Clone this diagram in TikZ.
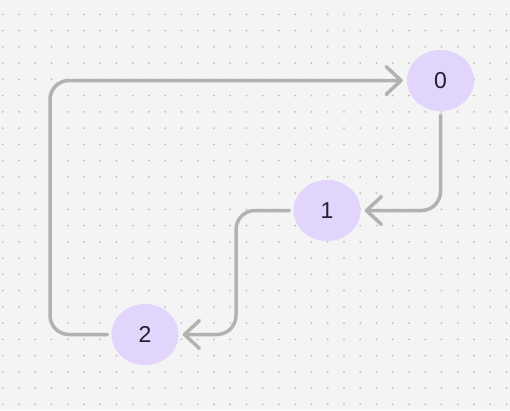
\documentclass[tikz,border=0pt]{standalone}
\usepackage{fontspec}
\setmainfont{Liberation Sans}
\usetikzlibrary{arrows.meta,shapes.geometric}
\definecolor{bgc}{HTML}{F4F4F4}
\definecolor{dotc}{HTML}{BDBDBD}
\definecolor{nodec}{HTML}{E1D4FD}
\definecolor{linec}{HTML}{B2B2B2}
\definecolor{txtc}{HTML}{241F2E}
\tikzset{
  vnode/.style={ellipse, fill=nodec, minimum width=67pt, minimum height=61pt, inner sep=0pt, text=txtc, font=\fontsize{23}{26}\selectfont},
  conn/.style={draw=linec, line width=3.5pt, rounded corners=19pt, line cap=round, shorten <=4pt, shorten >=4pt,
    -{Straight Barb[length=15pt, width=28pt, line width=3.5pt, round]}}
}
\begin{document}
\begin{tikzpicture}[x=1pt,y=-1pt]
\useasboundingbox (0,0) rectangle (510,410);
\fill[bgc] (0,0) rectangle (510,410);
\foreach \i in {0,...,31}{
  \foreach \j in {0,...,24}{
    \fill[dotc] ({2.7+16.25*\i},{14.3+16.25*\j}) circle (1pt);
  }
}
\node[vnode] (n0) at (440.5,80.5) {0};
\node[vnode] (n1) at (327,210.5) {1};
\node[vnode] (n2) at (145,334.5) {2};
\coordinate (c1) at (236,210.5);
\coordinate (c2) at (50,334.5);
\draw[conn] (n0) |- (n1);
\draw[conn] (n1) -- (c1) |- (n2);
\draw[conn] (n2) -- (c2) |- (n0);
\end{tikzpicture}
\end{document}
